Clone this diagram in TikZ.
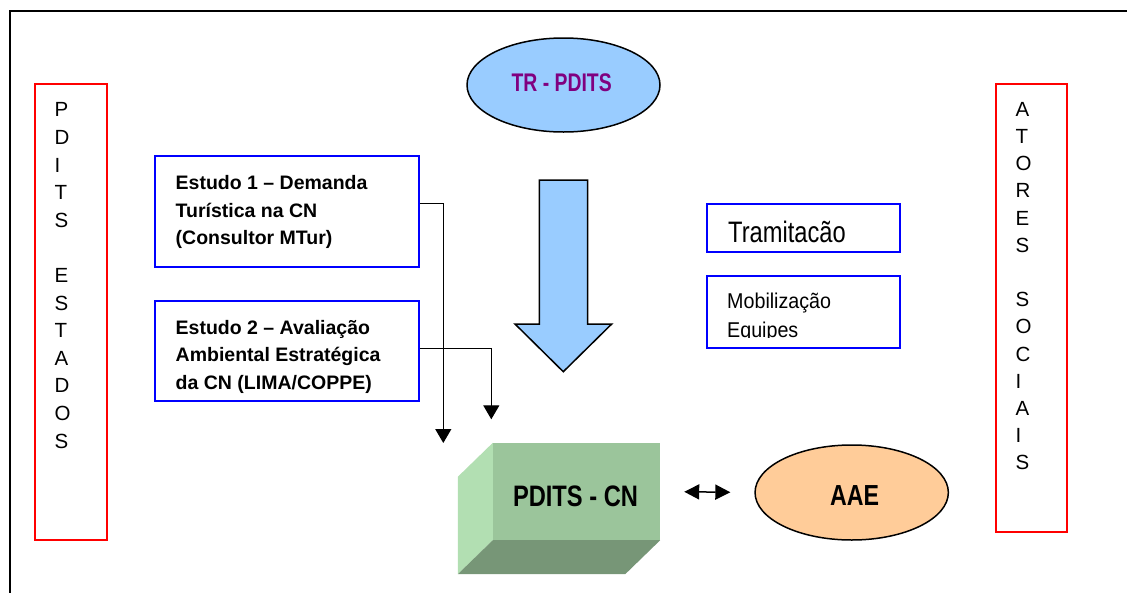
\documentclass[tikz,border=0pt]{standalone}
\usepackage{fontspec}
\setmainfont{Liberation Sans}
\newfontfamily\condfont[FakeStretch=0.8]{Liberation Sans}
\newfontfamily\trfont[FakeStretch=0.76]{Liberation Sans}
\newfontfamily\mobfont[FakeStretch=0.92]{Liberation Sans}
\usetikzlibrary{shapes.geometric,arrows.meta,calc}
\definecolor{lblue}{HTML}{99CCFF}
\definecolor{tpurple}{HTML}{800080}
\definecolor{peach}{HTML}{FFCC99}
\definecolor{gfront}{HTML}{9BC59B}
\definecolor{gside}{HTML}{B2DFB2}
\definecolor{gbottom}{HTML}{779677}
\definecolor{bbox}{HTML}{0000FF}
\definecolor{rbox}{HTML}{FF0000}
\tikzset{
  bluebox/.style={draw=bbox, line width=2pt, inner sep=0pt},
  redbox/.style={draw=rbox, line width=2pt, inner sep=0pt},
  lettercol/.style={inner sep=0pt, align=left, anchor=north west},
  studytext/.style={inner sep=0pt, align=left, anchor=north west, font=\bfseries\fontsize{19.5}{27.5}\selectfont},
  oval/.style={ellipse, draw=black, line width=1.5pt, inner sep=0pt},
  conn/.style={draw=black, line width=1.3pt, -{Triangle[length=14pt,width=16pt]}},
  dbl/.style={draw=black, line width=1.5pt, {Triangle[length=15pt,width=15pt]}-{Triangle[length=15pt,width=15pt]}},
}
\begin{document}
\begin{tikzpicture}[x=1pt,y=-1pt]
\useasboundingbox (0,0) rectangle (1127,592);
% outer frame
\draw[line width=2pt] (10,600) -- (10,11) -- (1135,11);

% side boxes
\node[redbox, minimum width=72.3pt, minimum height=456pt] (lbox) at (71.2,312) {};
\node[lettercol, font=\fontsize{20.5}{27.6}\selectfont] (ltext) at (54.3,97.4)
  {\strut P\\D\\I\\T\\S\\~\\E\\S\\T\\A\\D\\O\\S\strut};
\node[redbox, minimum width=71.6pt, minimum height=447.7pt] (rbox) at (1031.5,307.9) {};
\node[lettercol, font=\fontsize{20.5}{27.2}\selectfont] (rtext) at (1015.5,96.96)
  {\strut A\\T\\O\\R\\E\\S\\~\\S\\O\\C\\I\\A\\I\\S\strut};

% study boxes
\node[bluebox, minimum width=264.3pt, minimum height=111.3pt] (e1) at (287.2,211.7) {};
\node[studytext] (e1t) at (175.5,170.25)
  {\strut Estudo 1 – Demanda\\Turística na CN\\(Consultor MTur)\strut};
\node[bluebox, minimum width=264.3pt, minimum height=100pt] (e2) at (287.2,350.7) {};
\node[studytext] (e2t) at (175.5,314.75)
  {\strut Estudo 2 – Avaliação\\Ambiental Estratégica\\da CN (LIMA/COPPE)\strut};

% right small boxes
\node[bluebox, minimum width=193pt, minimum height=47.5pt] (tram) at (803.5,227.8) {};
\node[inner sep=0pt, anchor=base west, font=\condfont\fontsize{29.6}{30}\selectfont] (tramt) at (728,242) {Tramitacão};
\node[bluebox, minimum width=193pt, minimum height=72.3pt] (mob) at (803.5,312.2) {};
\begin{scope}
  \clip (700,280) rectangle (905,337.3);
  \node[lettercol, font=\mobfont\fontsize{21.4}{29}\selectfont] (mobt) at (727,287.7)
    {\strut Mobilização\\Equipes\strut};
\end{scope}

% top ellipse
\node[oval, fill=lblue, minimum width=193pt, minimum height=94pt] (tr) at (563.5,85) {};
\node[inner sep=0pt, anchor=base, text=tpurple, font=\trfont\bfseries\fontsize{25.5}{26}\selectfont] (trt) at (561.7,91.7) {TR - PDITS};

% big block arrow
\draw[fill=lblue, line width=1.5pt, line join=miter]
  (539.3,180) -- (587.7,180) -- (587.7,324) -- (611.7,324) -- (563.3,371.7)
  -- (515,324) -- (539.3,324) -- cycle;

% 3D box PDITS - CN
\node[fill=gfront, inner sep=0pt, minimum width=167pt, minimum height=97pt] (pdits) at (576.5,491.5) {};
\fill[gside] (pdits.north west) -- ($(pdits.north west)+(-35,34)$) -- ($(pdits.south west)+(-35,34)$) -- (pdits.south west) -- cycle;
\fill[gbottom] (pdits.south west) -- ($(pdits.south west)+(-35,34)$) -- ($(pdits.south east)+(-35,34)$) -- (pdits.south east) -- cycle;
\node[inner sep=0pt, anchor=base, font=\condfont\bfseries\fontsize{29.6}{30}\selectfont] (pditst) at (575.5,506.7) {PDITS - CN};

% AAE ellipse
\node[oval, fill=peach, minimum width=193.3pt, minimum height=95pt] (aae) at (851.7,492.5) {};
\node[inner sep=0pt, anchor=base, font=\condfont\bfseries\fontsize{29}{30}\selectfont] (aaet) at (854.5,505) {AAE};

% connectors
\coordinate (t1) at (443.3,443);
\coordinate (t2) at (491.3,419.3);
\draw[conn] ([yshift=8.4pt]e1.east) -| (t1);
\draw[conn] ([yshift=2.4pt]e2.east) -| (t2);
\draw[dbl, shorten <=24pt, shorten >=24pt] (pdits.east) -- (aae.west);
\end{tikzpicture}
\end{document}
